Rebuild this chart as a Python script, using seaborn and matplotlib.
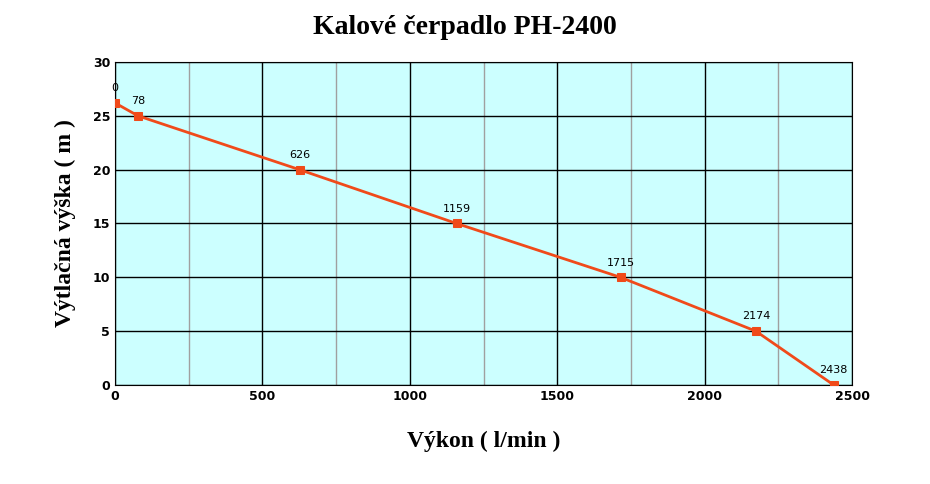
import matplotlib
matplotlib.use("Agg")
import matplotlib.pyplot as plt
import seaborn as sns
import pandas as pd

flow = [0, 78, 626, 1159, 1715, 2174, 2438]
head = [26.2, 25, 20, 15, 10, 5, 0]
labels = ["0", "78", "626", "1159", "1715", "2174", "2438"]

df = pd.DataFrame({"flow": flow, "head": head})
fig = plt.figure(figsize=(9.3, 4.84), dpi=100)
ax = fig.add_axes([115/930, 1-385/484, (852-115)/930, (385-62)/484])
ax.set_facecolor("#ccffff")
sns.lineplot(data=df, x="flow", y="head", ax=ax, color="#f04a1a", lw=2,
             marker="s", markersize=6, markeredgecolor="#f04a1a", zorder=3)
for x, y, t in zip(flow, head, labels):
    ax.annotate(t, (x, y), xytext=(0, 7), textcoords="offset points",
                ha="center", va="bottom", fontsize=8, family="DejaVu Sans")
ax.set_xlim(0, 2500)
ax.set_ylim(0, 30)
ax.set_xticks(range(0, 2501, 500))
ax.set_xticks(range(250, 2500, 500), minor=True)
ax.set_yticks(range(0, 31, 5))
ax.grid(True, which="major", color="black", lw=1)
ax.grid(True, which="minor", axis="x", color="#a0a0a0", lw=1)
ax.tick_params(which="both", length=0)
for lab in ax.get_xticklabels() + ax.get_yticklabels():
    lab.set_fontweight("bold"); lab.set_fontsize(9)
for s in ax.spines.values():
    s.set_color("black")
ax.set_xlabel("Výkon ( l/min )", fontsize=17, fontweight="bold",
              family="Liberation Serif", labelpad=20)
ax.set_ylabel("Výtlačná výška ( m )", fontsize=17, fontweight="bold",
              family="Liberation Serif", labelpad=12)
fig.suptitle("Kalové čerpadlo PH-2400", fontsize=20, fontweight="bold",
             family="Liberation Serif", y=0.97)
fig.savefig("out.png", dpi=100)
